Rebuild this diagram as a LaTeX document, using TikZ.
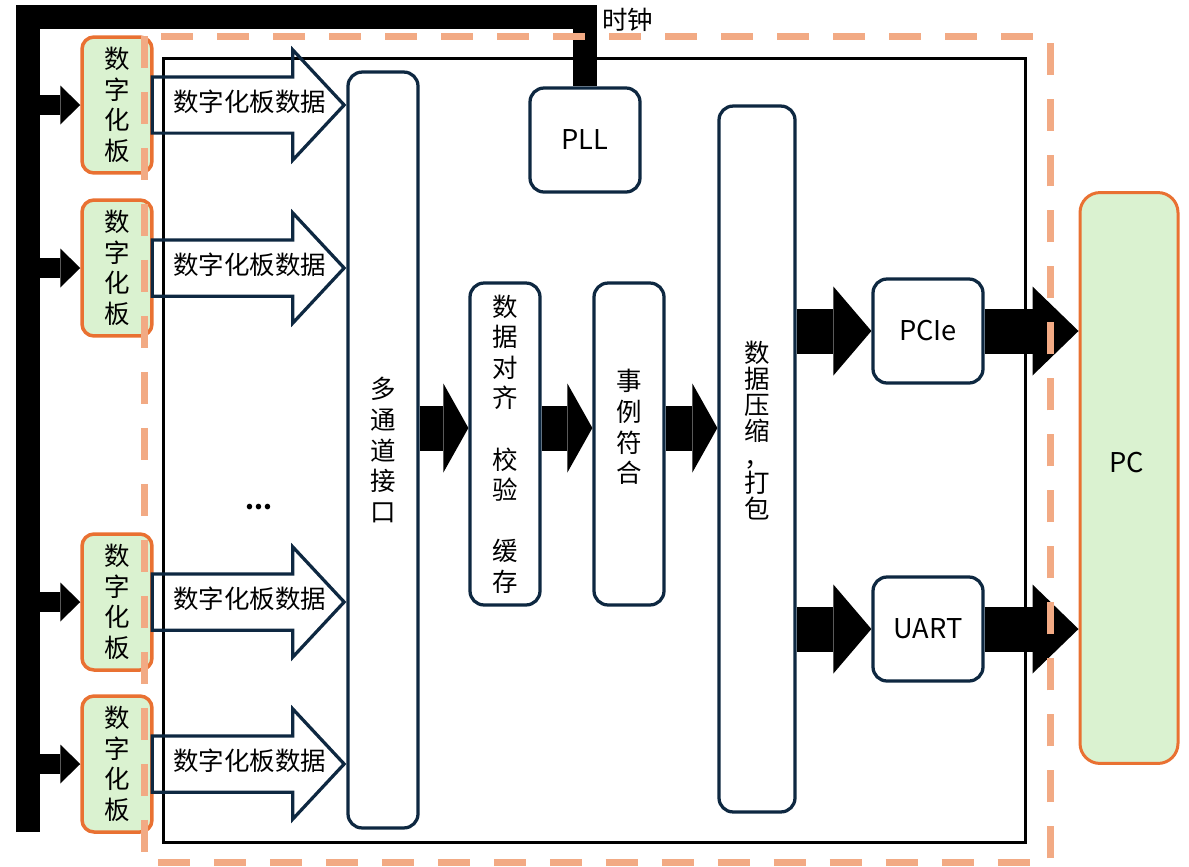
\documentclass[tikz,border=0pt]{standalone}
\usepackage{fontspec}
\setmainfont{Noto Sans CJK SC}
\usetikzlibrary{arrows.meta,shapes.arrows}
\definecolor{EdgeClr}{HTML}{0E2841}
\definecolor{BoardClr}{HTML}{DAF2D0}
\definecolor{BoardEdgeClr}{HTML}{E97132}
\definecolor{DashClr}{HTML}{F2AA84}

\tikzset{
  board/.style={draw=BoardEdgeClr,fill=BoardClr,line width=.07cm,rounded corners=.24cm,
    minimum width=1.4cm,minimum height=2.72cm,inner sep=0,align=center},
  stageBox/.style={draw=EdgeClr,fill=white,line width=.065cm,rounded corners=.28cm,
    inner sep=0,align=center},
  tallBox/.style={minimum width=1.4cm,minimum height=6.44cm},
  smallBox/.style={minimum width=2.2cm,minimum height=2.08cm,latin},
  latin/.style={font=\fontsize{15.5}{18}\selectfont},
  pcBox/.style={draw=BoardEdgeClr,fill=BoardClr,line width=.06cm,rounded corners=.4cm,
    minimum width=1.96cm,minimum height=11.42cm},
  dataArrow/.style={single arrow,draw=EdgeClr,line width=.065cm,single arrow head extend=.54cm,
    single arrow tip angle=94,minimum height=3.84cm,text height=.37cm,text depth=.1cm,
    inner ysep=.295cm,inner xsep=.1cm},
  clockBus/.style={line width=.47cm,line join=miter},
  busArrow/.style={line width=.4cm,-{Triangle[length=.4cm,width=.78cm,line width=0pt]}},
  fatArrow/.style={line width=.9cm,-{Triangle[length=#1,width=1.78cm,line width=0pt]}},
  fatArrow/.default=.5cm
}

\begin{document}
\begin{tikzpicture}[x=.02cm,y=-.02cm,font=\fontsize{14.5}{17.4}\selectfont]
\useasboundingbox (0,0) rectangle (1189,866);

% FPGA frame
\draw[line width=.06cm] (163,58) rectangle (1025,842);

% digitizer boards
\node[board] (b1) at (117,105) {数\\字\\化\\板};
\node[board] (b2) at (117,268) {数\\字\\化\\板};
\node[board] (b3) at (117,602) {数\\字\\化\\板};
\node[board] (b4) at (117,764) {数\\字\\化\\板};
\node (dots) at (259,507) {\textbf{...}};

% processing chain
\node[stageBox,minimum width=1.4cm,minimum height=15.12cm] (mux) at (383,450) {多\\通\\道\\接\\口};
\node[stageBox,smallBox] (pll) at (585,140) {PLL};
\node[stageBox,tallBox] (align) at (505,444) {数\\据\\对\\齐\\~\\校\\验\\~\\缓\\存};
\node[stageBox,tallBox] (coinc) at (629,444) {};
\node[align=center] (coincTxt) at (629,427) {事\\例\\符\\合};
\node[stageBox,minimum width=1.52cm,minimum height=14.12cm] (pack) at (757,459) {};
\node[align=center,font=\fontsize{14.5}{14.8}\selectfont] (packTxt) at (757,431) {数\\据\\压\\缩\\，\\打\\包};
\node[stageBox,smallBox] (pcie) at (928,331) {PCIe};
\node[stageBox,smallBox] (uart) at (928,629) {UART};
\node[pcBox] (pc) at (1129,478) {};
\node[latin] (pcTxt) at (1127,463) {PC};

% clock
\coordinate (busTop) at (28,17);
\coordinate (busEnd) at (28,832);
\draw[clockBus] (busEnd) -- (busTop) -| (pll.north);
\node[anchor=west,inner sep=0] (clkTxt) at (602,20) {时钟};
\foreach \b in {b1,b2,b3,b4}
  \draw[busArrow] (busTop |- \b) -- (\b.west);

% board data
\foreach \b/\d in {b1/d1,b2/d2,b3/d3,b4/d4}
  \node[dataArrow,anchor=tip] (\d) at (mux.west |- \b) {\hspace*{.24cm}数字化板数据\hspace*{-.34cm}};

% data flow
\coordinate (row) at (0,428);
\draw[fatArrow] (row -| mux.east) -- (row -| align.west);
\draw[fatArrow] (row -| align.east) -- (row -| coinc.west);
\draw[fatArrow] (row -| coinc.east) -- (row -| pack.west);
\draw[fatArrow=.76cm] (pcie -| pack.east) -- (pcie.west);
\draw[fatArrow=.76cm] (uart -| pack.east) -- (uart.west);
\draw[fatArrow=.92cm] (pcie.east) -- (pcie -| pc.west);
\draw[fatArrow=.92cm] (uart.east) -- (uart -| pc.west);

% board outline
\draw[DashClr,line width=.14cm,dash pattern=on .64cm off .48cm] (144,36) rectangle (1050,862);
\end{tikzpicture}
\end{document}
